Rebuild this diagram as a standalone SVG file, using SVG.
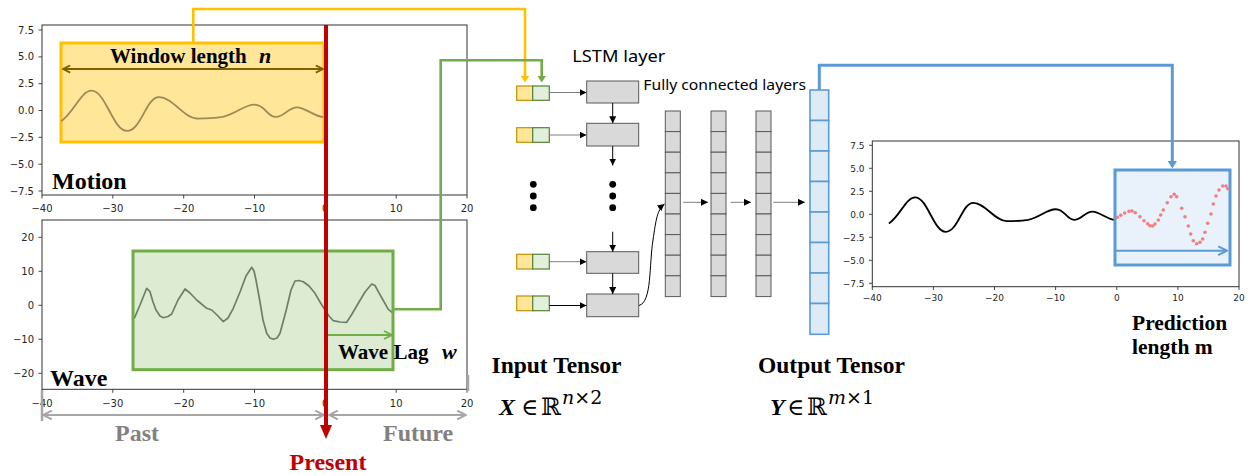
<svg xmlns="http://www.w3.org/2000/svg" width="1253" height="476" viewBox="0 0 1253 476">
<style>
.tk{font-family:"DejaVu Sans",sans-serif;font-size:10px;fill:#262626}
.tks{font-family:"DejaVu Sans",sans-serif;font-size:9px;fill:#262626}
.tl{stroke:#333;stroke-width:0.9}
.frame{fill:none;stroke:#333;stroke-width:1}
.big{font-family:"Liberation Serif","Times New Roman",serif;font-weight:bold;fill:#000}
.sans{font-family:"Noto Sans","Open Sans",sans-serif;fill:#000}
.cell{fill:#D9D9D9;stroke:#595959;stroke-width:1}
.ocell{fill:#DEEBF7;stroke:#5B9BD5;stroke-width:1.6}
.iny{fill:#FFE699;stroke:#BF9000;stroke-width:1.2}
.ing{fill:#E2EFDA;stroke:#548235;stroke-width:1.2}
.sm{stroke:#7F7F7F;stroke-width:1;fill:none}
.smk{stroke:#000;stroke-width:1;fill:none}
.dot{fill:#F08080}
.math{font-family:"DejaVu Serif","DejaVu Sans",serif;fill:#000}
</style>
<defs>
<marker id="ah" viewBox="0 0 8 8" refX="8" refY="4" markerWidth="7" markerHeight="7" markerUnits="userSpaceOnUse" orient="auto"><path d="M0,0 L8,4 L0,8 z" fill="#000"/></marker>
<marker id="chB" viewBox="0 0 10 10" refX="9" refY="5" markerWidth="9" markerHeight="9" markerUnits="userSpaceOnUse" orient="auto-start-reverse"><path d="M1,1 L9,5 L1,9" fill="none" stroke="#7F6000" stroke-width="2"/></marker>
<marker id="chG" viewBox="0 0 10 10" refX="9" refY="5" markerWidth="10" markerHeight="10" markerUnits="userSpaceOnUse" orient="auto-start-reverse"><path d="M1,1 L9,5 L1,9" fill="none" stroke="#70AD47" stroke-width="1.8"/></marker>
<marker id="chR" viewBox="0 0 10 10" refX="9" refY="5" markerWidth="11" markerHeight="11" markerUnits="userSpaceOnUse" orient="auto-start-reverse"><path d="M1,1 L9,5 L1,9" fill="none" stroke="#A6A6A6" stroke-width="1.8"/></marker>
<marker id="chL" viewBox="0 0 10 10" refX="9" refY="5" markerWidth="11" markerHeight="11" markerUnits="userSpaceOnUse" orient="auto-start-reverse"><path d="M1,1 L9,5 L1,9" fill="none" stroke="#5B9BD5" stroke-width="1.8"/></marker>
</defs>
<rect width="1253" height="476" fill="#fff"/>

<!-- Motion plot -->
<g id="plot-motion">
<rect class="frame" x="42" y="25" width="425" height="170"/>
<g class="tl">
<line x1="42" y1="195" x2="42" y2="198.5"/><line x1="112.8" y1="195" x2="112.8" y2="198.5"/><line x1="183.7" y1="195" x2="183.7" y2="198.5"/><line x1="254.5" y1="195" x2="254.5" y2="198.5"/><line x1="325.3" y1="195" x2="325.3" y2="198.5"/><line x1="396.2" y1="195" x2="396.2" y2="198.5"/><line x1="467" y1="195" x2="467" y2="198.5"/>
<line x1="38.5" y1="30" x2="42" y2="30"/><line x1="38.5" y1="56.9" x2="42" y2="56.9"/><line x1="38.5" y1="83.7" x2="42" y2="83.7"/><line x1="38.5" y1="110.5" x2="42" y2="110.5"/><line x1="38.5" y1="137.3" x2="42" y2="137.3"/><line x1="38.5" y1="164.2" x2="42" y2="164.2"/><line x1="38.5" y1="191" x2="42" y2="191"/>
</g>
<g class="tk" text-anchor="middle">
<text x="42" y="211.5">−40</text><text x="112.8" y="211.5">−30</text><text x="183.7" y="211.5">−20</text><text x="254.5" y="211.5">−10</text><text x="325.3" y="211.5">0</text><text x="396.2" y="211.5">10</text><text x="467" y="211.5">20</text>
</g>
<g class="tk" text-anchor="end">
<text x="34" y="33.5">7.5</text><text x="34" y="60.4">5.0</text><text x="34" y="87.2">2.5</text><text x="34" y="114">0.0</text><text x="34" y="140.8">−2.5</text><text x="34" y="167.7">−5.0</text><text x="34" y="194.5">−7.5</text>
</g>
<rect x="61" y="43" width="263" height="99" fill="#FFE699" stroke="#FFC000" stroke-width="3"/>
<path d="M-37.3,-1.0 C-35.5,-0.2 -34.5,1.85 -33,1.85 C-31,1.85 -30,-1.9 -28,-1.9 C-26,-1.9 -25.3,1.25 -23.5,1.25 C-21.5,1.25 -20,-0.75 -18,-0.75 C-16.5,-0.75 -15.5,-0.7 -14.5,-0.6 C-12.5,-0.3 -11.5,0.55 -10,0.55 C-8.5,0.55 -8.2,-0.6 -7,-0.6 C-5.8,-0.6 -5.2,0.3 -4,0.3 C-2.8,0.3 -1.5,-0.6 -0.3,-0.6" transform="matrix(7.083,0,0,-10.73,325.3,110.5)" fill="none" stroke="#9E8A55" stroke-width="1.8" vector-effect="non-scaling-stroke"/>
<line x1="63" y1="69" x2="323" y2="69" stroke="#7F6000" stroke-width="2" marker-start="url(#chB)" marker-end="url(#chB)"/>
<text class="big" x="110" y="63" font-size="21">Window length</text>
<text class="big" x="259" y="63" font-size="22" font-style="italic">n</text>
<text class="big" x="52" y="189" font-size="24">Motion</text>
</g>

<!-- Wave plot -->
<g id="plot-wave">
<rect class="frame" x="42" y="220" width="425" height="169.3"/>
<g class="tl">
<line x1="42" y1="389.3" x2="42" y2="392.8"/><line x1="112.8" y1="389.3" x2="112.8" y2="392.8"/><line x1="183.7" y1="389.3" x2="183.7" y2="392.8"/><line x1="254.5" y1="389.3" x2="254.5" y2="392.8"/><line x1="325.3" y1="389.3" x2="325.3" y2="392.8"/><line x1="396.2" y1="389.3" x2="396.2" y2="392.8"/><line x1="467" y1="389.3" x2="467" y2="392.8"/>
<line x1="38.5" y1="237.3" x2="42" y2="237.3"/><line x1="38.5" y1="271.3" x2="42" y2="271.3"/><line x1="38.5" y1="305.3" x2="42" y2="305.3"/><line x1="38.5" y1="339.3" x2="42" y2="339.3"/><line x1="38.5" y1="373.3" x2="42" y2="373.3"/>
</g>
<g class="tk" text-anchor="middle">
<text x="42" y="406.5">−40</text><text x="112.8" y="406.5">−30</text><text x="183.7" y="406.5">−20</text><text x="254.5" y="406.5">−10</text><text x="325.3" y="406.5">0</text><text x="396.2" y="406.5">10</text><text x="467" y="406.5">20</text>
</g>
<g class="tk" text-anchor="end">
<text x="34" y="240.8">20</text><text x="34" y="274.8">10</text><text x="34" y="308.8">0</text><text x="34" y="342.8">−10</text><text x="34" y="376.8">−20</text>
</g>
<rect x="133" y="251" width="260" height="118.7" fill="#DDEBD3"/>
<path d="M134.3,318.3 L140,305 L146.7,288.3 L150,291.7 L153,302 L156,310 L160,316 L163.3,317.7 L168,316.5 L171.7,314 L178,300 L185,289 L190,293 L196.7,300 L206.7,308.3 L211.7,310 L217,315 L223.3,321.7 L228,318 L233.3,308.3 L240,292 L246,276 L251.7,267.3 L254,271 L256,280 L260,302 L263,320 L266.7,333.3 L270,338 L273.3,339.3 L277,338 L280,333.3 L286,311 L291,290 L295,281 L299,280.5 L303.3,281.7 L309,286 L315,293.3 L320,302 L325,310 L329,316 L333.3,320.7 L340,322 L346.7,322.3 L352,314 L358.3,303.3 L365,292 L371.7,284 L375,285.5 L378.3,291.7 L383,300 L388.3,309.3 L393.3,313.3" fill="none" stroke="#6E7E68" stroke-width="1.7" stroke-linejoin="round"/>
<rect x="133" y="251" width="260" height="118.7" fill="none" stroke="#70AD47" stroke-width="3"/>
<line x1="326" y1="335" x2="392" y2="335" stroke="#70AD47" stroke-width="1.8" marker-end="url(#chG)"/>
<text class="big" x="338" y="359" font-size="21">Wave Lag</text>
<text class="big" x="442" y="359" font-size="22" font-style="italic">w</text>
<text class="big" x="50" y="385.5" font-size="24">Wave</text>
</g>

<!-- Past / Future time axis -->
<g id="time-axis">
<line x1="42" y1="390" x2="42" y2="421" stroke="#A6A6A6" stroke-width="2.5"/>
<line x1="468" y1="375" x2="468" y2="391" stroke="#A6A6A6" stroke-width="2.5"/>
<line x1="43" y1="415" x2="324" y2="415" stroke="#A6A6A6" stroke-width="2" marker-start="url(#chR)" marker-end="url(#chR)"/>
<line x1="329" y1="415" x2="466" y2="415" stroke="#A6A6A6" stroke-width="2" marker-start="url(#chR)" marker-end="url(#chR)"/>
<text class="big" x="115" y="440.5" font-size="24" style="fill:#858080">Past</text>
<text class="big" x="383" y="440.5" font-size="24" style="fill:#858080">Future</text>
</g>

<!-- Present marker -->
<g id="present">
<line x1="326" y1="25" x2="326" y2="427" stroke="#C00000" stroke-width="4"/>
<polygon points="320,425 332,425 326,439" fill="#C00000"/>
<text class="big" x="328" y="470" font-size="24" text-anchor="middle" style="fill:#C00000">Present</text>
</g>

<!-- Input tensor -->
<g id="input-tensor">
<rect class="iny" x="516.7" y="86" width="16" height="14.3"/><rect class="ing" x="532.7" y="86" width="16.6" height="14.3"/>
<rect class="iny" x="516.7" y="127.7" width="16" height="14.6"/><rect class="ing" x="532.7" y="127.7" width="16.6" height="14.6"/>
<rect class="iny" x="516.7" y="254.3" width="16" height="14.7"/><rect class="ing" x="532.7" y="254.3" width="16.6" height="14.7"/>
<rect class="iny" x="516.7" y="296" width="16" height="14.7"/><rect class="ing" x="532.7" y="296" width="16.6" height="14.7"/>
<circle cx="533.3" cy="184.3" r="3.4"/><circle cx="533.3" cy="196" r="3.4"/><circle cx="533.3" cy="207.7" r="3.4"/>
<text class="big" x="491.5" y="373" font-size="23.5">Input Tensor</text>
<text class="big" x="499" y="415" font-size="24" font-style="italic">X</text>
<text class="math" x="521" y="415" font-size="23">∈</text>
<text class="math" x="541" y="415" font-size="24">ℝ</text>
<text class="math" x="562" y="404" font-size="19"><tspan font-style="italic">n</tspan>×2</text>
</g>

<!-- LSTM layer -->
<g id="lstm-layer">
<rect class="cell" x="586.7" y="81" width="52" height="22"/>
<rect class="cell" x="586.7" y="123.3" width="52" height="22.7"/>
<rect class="cell" x="586.7" y="251.7" width="52" height="21.6"/>
<rect class="cell" x="586.7" y="294" width="52" height="22.7"/>
<circle cx="612.7" cy="184.3" r="3.4"/><circle cx="612.7" cy="196" r="3.4"/><circle cx="612.7" cy="207.7" r="3.4"/>
<text class="sans" x="572.3" y="61.7" font-size="16.5" textLength="93" lengthAdjust="spacingAndGlyphs">LSTM layer</text>
</g>

<!-- Fully connected layers -->
<g id="fc-layers">
<text class="sans" x="643.3" y="90" font-size="14" textLength="162.7" lengthAdjust="spacingAndGlyphs">Fully connected layers</text>
<g id="fc1">
<rect class="cell" x="665.3" y="111" width="15" height="20.6"/><rect class="cell" x="665.3" y="131.6" width="15" height="20.6"/><rect class="cell" x="665.3" y="152.2" width="15" height="20.6"/><rect class="cell" x="665.3" y="172.8" width="15" height="20.6"/><rect class="cell" x="665.3" y="193.4" width="15" height="20.6"/><rect class="cell" x="665.3" y="214" width="15" height="20.6"/><rect class="cell" x="665.3" y="234.6" width="15" height="20.6"/><rect class="cell" x="665.3" y="255.2" width="15" height="20.6"/><rect class="cell" x="665.3" y="275.8" width="15" height="20.8"/>
</g>
<g id="fc2">
<rect class="cell" x="711" y="111" width="15" height="20.6"/><rect class="cell" x="711" y="131.6" width="15" height="20.6"/><rect class="cell" x="711" y="152.2" width="15" height="20.6"/><rect class="cell" x="711" y="172.8" width="15" height="20.6"/><rect class="cell" x="711" y="193.4" width="15" height="20.6"/><rect class="cell" x="711" y="214" width="15" height="20.6"/><rect class="cell" x="711" y="234.6" width="15" height="20.6"/><rect class="cell" x="711" y="255.2" width="15" height="20.6"/><rect class="cell" x="711" y="275.8" width="15" height="20.8"/>
</g>
<g id="fc3">
<rect class="cell" x="756" y="111" width="15" height="20.6"/><rect class="cell" x="756" y="131.6" width="15" height="20.6"/><rect class="cell" x="756" y="152.2" width="15" height="20.6"/><rect class="cell" x="756" y="172.8" width="15" height="20.6"/><rect class="cell" x="756" y="193.4" width="15" height="20.6"/><rect class="cell" x="756" y="214" width="15" height="20.6"/><rect class="cell" x="756" y="234.6" width="15" height="20.6"/><rect class="cell" x="756" y="255.2" width="15" height="20.6"/><rect class="cell" x="756" y="275.8" width="15" height="20.8"/>
</g>
</g>

<!-- Output tensor -->
<g id="output-tensor">
<rect class="ocell" x="810" y="90" width="18.7" height="30.5"/><rect class="ocell" x="810" y="120.5" width="18.7" height="30.5"/><rect class="ocell" x="810" y="151" width="18.7" height="30.5"/><rect class="ocell" x="810" y="181.5" width="18.7" height="30.5"/><rect class="ocell" x="810" y="212" width="18.7" height="30.5"/><rect class="ocell" x="810" y="242.5" width="18.7" height="30.5"/><rect class="ocell" x="810" y="273" width="18.7" height="30.5"/><rect class="ocell" x="810" y="303.5" width="18.7" height="30.8"/>
<text class="big" x="758" y="373" font-size="23.5">Output Tensor</text>
<text class="big" x="770" y="415" font-size="24" font-style="italic">Y</text>
<text class="math" x="787" y="415" font-size="23">∈</text>
<text class="math" x="807" y="415" font-size="24">ℝ</text>
<text class="math" x="828" y="404" font-size="19"><tspan font-style="italic">m</tspan>×1</text>
</g>

<!-- Prediction plot -->
<g id="plot-prediction">
<rect class="frame" x="872.3" y="141" width="366.7" height="145.7"/>
<g class="tl">
<line x1="872.3" y1="286.7" x2="872.3" y2="290"/><line x1="933.4" y1="286.7" x2="933.4" y2="290"/><line x1="994.5" y1="286.7" x2="994.5" y2="290"/><line x1="1055.6" y1="286.7" x2="1055.6" y2="290"/><line x1="1116.8" y1="286.7" x2="1116.8" y2="290"/><line x1="1177.9" y1="286.7" x2="1177.9" y2="290"/><line x1="1239" y1="286.7" x2="1239" y2="290"/>
<line x1="869" y1="145.3" x2="872.3" y2="145.3"/><line x1="869" y1="168.3" x2="872.3" y2="168.3"/><line x1="869" y1="191.3" x2="872.3" y2="191.3"/><line x1="869" y1="214.3" x2="872.3" y2="214.3"/><line x1="869" y1="237.3" x2="872.3" y2="237.3"/><line x1="869" y1="260.3" x2="872.3" y2="260.3"/><line x1="869" y1="283.3" x2="872.3" y2="283.3"/>
</g>
<g class="tks" text-anchor="middle">
<text x="872.3" y="300.7">−40</text><text x="933.4" y="300.7">−30</text><text x="994.5" y="300.7">−20</text><text x="1055.6" y="300.7">−10</text><text x="1116.8" y="300.7">0</text><text x="1177.9" y="300.7">10</text><text x="1239" y="300.7">20</text>
</g>
<g class="tks" text-anchor="end">
<text x="864.5" y="148.5">7.5</text><text x="864.5" y="171.5">5.0</text><text x="864.5" y="194.5">2.5</text><text x="864.5" y="217.5">0.0</text><text x="864.5" y="240.5">−2.5</text><text x="864.5" y="263.5">−5.0</text><text x="864.5" y="286.5">−7.5</text>
</g>
<path d="M-37.3,-1.0 C-35.5,-0.2 -34.5,1.85 -33,1.85 C-31,1.85 -30,-1.9 -28,-1.9 C-26,-1.9 -25.3,1.25 -23.5,1.25 C-21.5,1.25 -20,-0.75 -18,-0.75 C-16.5,-0.75 -15.5,-0.7 -14.5,-0.6 C-12.5,-0.3 -11.5,0.55 -10,0.55 C-8.5,0.55 -8.2,-0.6 -7,-0.6 C-5.8,-0.6 -5.2,0.3 -4,0.3 C-2.8,0.3 -1.5,-0.6 -0.3,-0.6" transform="matrix(6.11,0,0,-9.2,1116.8,214.3)" fill="none" stroke="#000" stroke-width="1.8" vector-effect="non-scaling-stroke"/>
<rect x="1115" y="170" width="115" height="95" fill="#E9F1FA" stroke="#5B9BD5" stroke-width="3"/>
<g class="dot">
<circle cx="1117.3" cy="217.3" r="1.8"/><circle cx="1120.7" cy="215.3" r="1.8"/><circle cx="1124.7" cy="213" r="1.8"/><circle cx="1129" cy="211.3" r="1.8"/><circle cx="1132" cy="211" r="1.8"/><circle cx="1135.3" cy="212.7" r="1.8"/><circle cx="1140" cy="216.7" r="1.8"/><circle cx="1144" cy="220.7" r="1.8"/><circle cx="1147.7" cy="223.7" r="1.8"/><circle cx="1150" cy="225.7" r="1.8"/><circle cx="1152.7" cy="226" r="1.8"/><circle cx="1155" cy="224" r="1.8"/><circle cx="1158.3" cy="220" r="1.8"/><circle cx="1160.7" cy="215" r="1.8"/><circle cx="1163.3" cy="210" r="1.8"/><circle cx="1167.3" cy="202.7" r="1.8"/><circle cx="1171" cy="196.7" r="1.8"/><circle cx="1174.3" cy="194.3" r="1.8"/><circle cx="1176.7" cy="196.7" r="1.8"/><circle cx="1181.7" cy="208.3" r="1.8"/><circle cx="1185" cy="216.7" r="1.8"/><circle cx="1188.3" cy="226" r="1.8"/><circle cx="1190.7" cy="234" r="1.8"/><circle cx="1193.3" cy="240.7" r="1.8"/><circle cx="1196.7" cy="243.7" r="1.8"/><circle cx="1200" cy="242.3" r="1.8"/><circle cx="1202.7" cy="239" r="1.8"/><circle cx="1205" cy="232.3" r="1.8"/><circle cx="1207.7" cy="223.3" r="1.8"/><circle cx="1211" cy="214" r="1.8"/><circle cx="1213.3" cy="204" r="1.8"/><circle cx="1216" cy="196" r="1.8"/><circle cx="1219" cy="190" r="1.8"/><circle cx="1222.7" cy="186" r="1.8"/><circle cx="1226" cy="186" r="1.8"/><circle cx="1227.7" cy="188.7" r="1.8"/>
</g>
<line x1="1116" y1="250.7" x2="1227" y2="250.7" stroke="#5B9BD5" stroke-width="2" marker-end="url(#chL)"/>
<text class="big" x="1132" y="330" font-size="21.5">Prediction</text>
<text class="big" x="1132" y="354" font-size="21.5">length m</text>
</g>

<!-- Connectors -->
<g id="connectors">
<path d="M193.3,43 V9 H525 V77" fill="none" stroke="#FFC000" stroke-width="2.6"/>
<polygon points="520.8,76 529.2,76 525,82.5" fill="#FFC000"/>
<path d="M393,309.3 H440.7 V60.3 H541.7 V77" fill="none" stroke="#70AD47" stroke-width="2.6"/>
<polygon points="537.5,76 545.9,76 541.7,82.5" fill="#70AD47"/>
<path d="M819.3,90 V65.3 H1172.3 V162" fill="none" stroke="#5B9BD5" stroke-width="3"/>
<polygon points="1167.6,161 1177,161 1172.3,168.5" fill="#5B9BD5"/>
<line class="sm" x1="549.3" y1="92.5" x2="586.5" y2="92.5" marker-end="url(#ah)"/>
<line class="sm" x1="549.3" y1="135" x2="586.5" y2="135" marker-end="url(#ah)"/>
<line class="sm" x1="549.3" y1="261.7" x2="586.5" y2="261.7" marker-end="url(#ah)"/>
<line class="smk" x1="549.3" y1="305.5" x2="586.5" y2="305.5" marker-end="url(#ah)"/>
<line class="smk" x1="612.7" y1="103" x2="612.7" y2="123.3" marker-end="url(#ah)"/>
<line class="smk" x1="612.7" y1="146" x2="612.7" y2="165.5" marker-end="url(#ah)"/>
<line class="smk" x1="612.7" y1="231.7" x2="612.7" y2="251.7" marker-end="url(#ah)"/>
<line class="smk" x1="612.7" y1="273.3" x2="612.7" y2="294" marker-end="url(#ah)"/>
<path class="smk" d="M639,305.5 C652,302 649,265 653,240 C656,220 657,210 664.5,204" marker-end="url(#ah)"/>
<line class="sm" x1="683.3" y1="202.3" x2="708" y2="202.3" marker-end="url(#ah)"/>
<line class="sm" x1="730.7" y1="202.3" x2="751" y2="202.3" marker-end="url(#ah)"/>
<line class="sm" x1="773.3" y1="202.3" x2="805" y2="202.3" marker-end="url(#ah)"/>
</g>
</svg>
